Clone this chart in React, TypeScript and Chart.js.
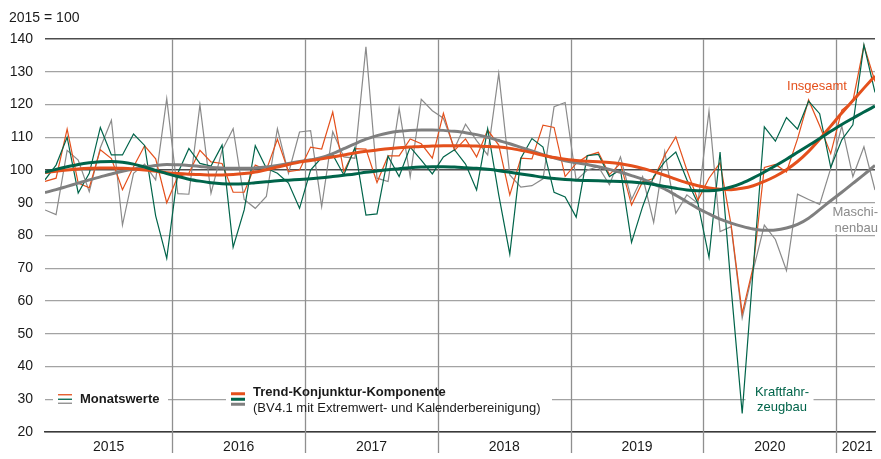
import React, { useEffect, useRef } from "react";
import { Chart, registerables } from "chart.js";

Chart.register(...registerables);

// ---- categories / ticks ----
const YEARS = ["2015", "2016", "2017", "2018", "2019", "2020", "2021"];
const YEAR_LABEL_POS = [5.75, 17.5, 29.5, 41.5, 53.5, 65.5, 73.4];
const YEAR_BOUNDARIES = [11.5, 23.5, 35.5, 47.5, 59.5, 71.5];
const Y_MIN = 20;
const Y_MAX = 140;

// ---- monthly values Jan 2015 .. Apr 2021 (76 months) ----
const INSGESAMT = [
  96.5, 97.5, 112.5, 96.0, 94.6, 106.2, 103.5, 94.0, 101.0, 107.4, 103.4, 90.0,
  98.0, 99.0, 106.0, 102.5, 102.0, 93.2, 93.2, 101.5, 100.0, 109.4, 99.5, 100.0,
  107.0, 106.4, 117.7, 99.5, 106.5, 106.4, 96.2, 104.3, 104.3, 109.5, 108.0, 103.6,
  117.3, 106.0, 109.5, 104.0, 112.2, 107.6, 92.4, 103.6, 103.4, 113.7, 113.0, 98.0,
  102.0, 104.3, 105.4, 98.6, 102.0, 89.3, 96.4, 97.4, 104.5, 110.1, 100.0, 90.8,
  97.5, 102.2, 83.2, 56.2, 70.5, 100.8, 101.7, 99.4, 109.5, 121.4, 113.5, 105.0,
  118.3, 121.0, 138.0, 127.0,
];
const KRAFTFAHRZEUGBAU = [
  97.0, 101.5, 110.0, 93.0, 99.0, 113.0, 104.6, 104.6, 111.0, 107.5, 86.0, 73.0,
  99.0, 106.6, 102.0, 101.2, 107.6, 76.4, 87.8, 107.4, 100.5, 99.0, 96.0, 88.3,
  100.0, 103.8, 104.7, 98.5, 106.8, 86.2, 86.6, 104.2, 98.0, 107.0, 103.0, 98.8,
  104.0, 106.2, 101.8, 93.9, 112.6, 92.4, 74.3, 103.6, 109.6, 107.0, 93.2, 91.8,
  85.6, 104.4, 104.8, 98.0, 100.1, 77.9, 88.8, 98.0, 102.5, 105.5, 97.0, 89.8,
  73.3, 105.5, 64.0, 25.7, 70.0, 113.2, 108.8, 116.0, 112.5, 121.0, 117.2, 100.8,
  109.2, 113.8, 138.2, 123.7,
];
const MASCHINENBAU = [
  87.8, 86.4, 106.0, 103.0, 93.4, 106.8, 115.2, 83.2, 99.0, 101.8, 97.0, 121.8,
  92.8, 92.6, 119.9, 92.9, 106.0, 112.6, 91.0, 88.3, 91.9, 112.6, 99.0, 111.6,
  112.0, 88.8, 111.7, 104.0, 103.6, 137.6, 97.5, 96.5, 118.8, 97.9, 121.6, 118.1,
  115.8, 106.6, 114.0, 109.0, 104.6, 129.5, 98.5, 94.8, 95.2, 97.3, 119.3, 120.6,
  96.8, 100.0, 101.0, 95.5, 104.0, 91.0, 98.0, 84.0, 105.6, 86.8, 92.4, 89.8,
  118.0, 81.2, 82.7, 54.8, 69.5, 83.2, 78.8, 69.3, 92.6, 91.0, 89.5, 100.5,
  113.4, 98.0, 107.1, 93.9,
];

// ---- trend-cycle components ----
const TREND_INSGESAMT = [
  99.2, 99.6, 100.0, 100.3, 100.5, 100.6, 100.6, 100.5, 100.3, 100.0, 99.6, 99.2,
  98.9, 98.7, 98.6, 98.5, 98.5, 98.6, 98.9, 99.4, 100.1, 100.9, 101.7, 102.4,
  102.9, 103.4, 104.0, 104.6, 105.2, 105.7, 106.1, 106.5, 106.8, 107.0, 107.2, 107.3,
  107.4, 107.4, 107.4, 107.3, 107.2, 107.0, 106.6, 106.0, 105.3, 104.5, 103.8, 103.3,
  102.9, 102.7, 102.5, 102.3, 101.9, 101.3, 100.5, 99.5, 98.4, 97.2, 96.1, 95.2,
  94.5, 94.1, 94.0, 94.4, 95.2, 96.5, 98.1, 100.1, 102.6, 105.7, 109.4, 113.4,
  117.4, 121.2, 125.0, 128.7,
];
const TREND_KRAFTFAHRZEUGBAU = [
  99.3, 100.2, 101.0, 101.7, 102.2, 102.5, 102.6, 102.4, 101.8, 100.9, 99.9, 98.9,
  98.0, 97.2, 96.6, 96.1, 95.8, 95.7, 95.8, 96.1, 96.4, 96.7, 96.9, 97.1,
  97.3, 97.6, 98.0, 98.4, 98.8, 99.3, 99.7, 100.1, 100.4, 100.7, 100.9, 101.0,
  101.0, 100.9, 100.7, 100.5, 100.2, 99.8, 99.3, 98.8, 98.3, 97.8, 97.4, 97.1,
  96.9, 96.8, 96.7, 96.6, 96.5, 96.3, 96.0, 95.6, 95.0, 94.4, 93.9, 93.7,
  93.7, 94.0, 94.8, 96.0, 97.6, 99.4, 101.3, 103.3, 105.4, 107.5, 109.6, 111.8,
  113.9, 115.8, 117.7, 119.5,
];
const TREND_MASCHINENBAU = [
  93.1, 94.0, 95.0, 96.0, 97.0, 97.9, 98.8, 99.6, 100.3, 100.9, 101.4, 101.7,
  101.6, 101.4, 101.1, 100.8, 100.6, 100.5, 100.5, 100.6, 100.9, 101.4, 102.0, 102.6,
  103.1, 103.8, 105.0, 106.5, 108.0, 109.4, 110.5, 111.3, 111.8, 112.1, 112.2, 112.2,
  112.1, 111.8, 111.4, 110.8, 110.0, 109.0, 108.0, 106.9, 105.8, 104.7, 103.7, 102.8,
  102.2, 101.7, 101.0, 100.2, 99.3, 98.3, 97.2, 95.8, 94.2, 92.3, 90.3, 88.3,
  86.6, 85.0, 83.8, 82.8, 82.0, 81.6, 81.7, 82.3, 83.4, 85.3, 87.9, 90.6,
  93.2, 95.9, 98.6, 101.4,
];

const ORANGE = "#e4501c";
const GREEN = "#00644a";
const GRAY = "#8a8a8a";
const GRAY_TREND = "#7f7f7f";
const FONT = "'Liberation Sans', Arial, Helvetica, sans-serif";

const pts = (arr: number[]) => arr.map((y, i) => ({ x: i, y }));

const overlayPlugin = {
  id: "overlay",
  beforeDatasetsDraw(chart: any) {
    const { ctx, chartArea } = chart;
    const xs = chart.scales.x;
    const ys = chart.scales.y;
    ctx.save();
    // white backgrounds behind the in-plot legend/labels (cut the 30 gridline)
    const y30 = ys.getPixelForValue(30);
    ctx.fillStyle = "#ffffff";
    ctx.fillRect(53, y30 - 9, 115, 18);
    ctx.fillRect(226, y30 - 15, 326, 30);
    ctx.fillRect(xs.getPixelForValue(63.3), y30 - 15, 68, 30);
    // year separators
    ctx.strokeStyle = "#8f8f8f";
    ctx.lineWidth = 1.3;
    YEAR_BOUNDARIES.forEach((v) => {
      const px = Math.round(xs.getPixelForValue(v)) + 0.5;
      ctx.beginPath();
      ctx.moveTo(px, chartArea.top);
      ctx.lineTo(px, chartArea.bottom + 21);
      ctx.stroke();
    });
    // box behind Maschinenbau label
    ctx.fillStyle = "#ffffff";
    ctx.fillRect(829, ys.getPixelForValue(89.6), 52, 30);
    ctx.restore();
  },
  afterDatasetsDraw(chart: any) {
    const { ctx } = chart;
    const ys = chart.scales.y;
    const y30 = ys.getPixelForValue(30);
    ctx.save();
    ctx.textBaseline = "middle";
    // unit
    ctx.fillStyle = "#1a1a1a";
    ctx.font = `14px ${FONT}`;
    ctx.textAlign = "left";
    ctx.fillText("2015 = 100", 9, 18);
    // legend: Monatswerte
    const thin = [
      [ORANGE, -4.5],
      [GREEN, 0],
      [GRAY, 4],
    ];
    thin.forEach(([c, dy]) => {
      ctx.strokeStyle = c as string;
      ctx.lineWidth = 1.3;
      ctx.beginPath();
      ctx.moveTo(58, y30 + (dy as number));
      ctx.lineTo(72, y30 + (dy as number));
      ctx.stroke();
    });
    ctx.fillStyle = "#1a1a1a";
    ctx.font = `bold 13px ${FONT}`;
    ctx.fillText("Monatswerte", 80, y30);
    // legend: Trend
    const thick = [
      [ORANGE, -5.5],
      [GREEN, 0],
      [GRAY_TREND, 5],
    ];
    thick.forEach(([c, dy]) => {
      ctx.strokeStyle = c as string;
      ctx.lineWidth = 3;
      ctx.beginPath();
      ctx.moveTo(231, y30 + (dy as number));
      ctx.lineTo(245, y30 + (dy as number));
      ctx.stroke();
    });
    ctx.fillStyle = "#1a1a1a";
    ctx.font = `bold 13px ${FONT}`;
    ctx.fillText("Trend-Konjunktur-Komponente", 253, y30 - 6.5);
    ctx.font = `13px ${FONT}`;
    ctx.fillText("(BV4.1 mit Extremwert- und Kalenderbereinigung)", 253, y30 + 9);
    // series labels
    ctx.textAlign = "center";
    ctx.fillStyle = ORANGE;
    ctx.fillText("Insgesamt", 817, 86);
    ctx.fillStyle = GREEN;
    ctx.fillText("Kraftfahr-", 782, y30 - 6.5);
    ctx.fillText("zeugbau", 782, y30 + 8.5);
    ctx.textAlign = "right";
    ctx.fillStyle = GRAY;
    ctx.fillText("Maschi-", 878, 212);
    ctx.fillText("nenbau", 878, 228);
    ctx.restore();
  },
};

export default function App() {
  const ref = useRef<HTMLCanvasElement | null>(null);

  useEffect(() => {
    if (!ref.current) return;
    const chart = new Chart(ref.current, {
      type: "line",
      data: {
        datasets: [
          {
            label: "Trend Kraftfahrzeugbau",
            data: pts(TREND_KRAFTFAHRZEUGBAU),
            borderColor: GREEN,
            borderWidth: 3,
            cubicInterpolationMode: "monotone",
          },
          {
            label: "Trend Insgesamt",
            data: pts(TREND_INSGESAMT),
            borderColor: ORANGE,
            borderWidth: 3,
            cubicInterpolationMode: "monotone",
          },
          {
            label: "Trend Maschinenbau",
            data: pts(TREND_MASCHINENBAU),
            borderColor: GRAY_TREND,
            borderWidth: 3,
            cubicInterpolationMode: "monotone",
          },
          {
            label: "Kraftfahrzeugbau",
            data: pts(KRAFTFAHRZEUGBAU),
            borderColor: GREEN,
            borderWidth: 1.2,
            tension: 0,
          },
          {
            label: "Insgesamt",
            data: pts(INSGESAMT),
            borderColor: ORANGE,
            borderWidth: 1.2,
            tension: 0,
          },
          {
            label: "Maschinenbau",
            data: pts(MASCHINENBAU),
            borderColor: GRAY,
            borderWidth: 1.2,
            tension: 0,
          },
        ] as any,
      },
      options: {
        animation: false,
        responsive: false,
        devicePixelRatio: 1,
        parsing: true,
        elements: { point: { radius: 0, hoverRadius: 0 }, line: { fill: false } },
        layout: { padding: { top: 39, right: 6, left: 0, bottom: 0 } },
        plugins: { legend: { display: false }, tooltip: { enabled: false } },
        scales: {
          x: {
            type: "linear",
            min: 0,
            max: INSGESAMT.length - 1,
            afterBuildTicks: (axis: any) => {
              axis.ticks = YEAR_LABEL_POS.map((v) => ({ value: v }));
            },
            afterFit: (axis: any) => {
              axis.height = 27;
            },
            ticks: {
              autoSkip: false,
              maxRotation: 0,
              padding: 7,
              color: "#1a1a1a",
              font: { family: FONT, size: 14 },
              callback: (_v: any, i: number) => YEARS[i],
            },
            grid: { display: false, drawTicks: false },
            border: { display: true, color: "#3a3a3a", width: 1.6 },
          },
          y: {
            min: Y_MIN,
            max: Y_MAX,
            afterFit: (axis: any) => {
              axis.width = 45;
            },
            ticks: {
              stepSize: 10,
              padding: 12,
              color: "#1a1a1a",
              font: { family: FONT, size: 14 },
            },
            grid: {
              drawTicks: false,
              color: (c: any) =>
                c.tick && (c.tick.value === 100 || c.tick.value === 140 || c.tick.value === 20)
                  ? "#4d4d4d"
                  : "#a3a3a3",
              lineWidth: (c: any) =>
                c.tick && (c.tick.value === 100 || c.tick.value === 140) ? 1.6 : 1.2,
            },
            border: { display: false },
          },
        },
      } as any,
      plugins: [overlayPlugin],
    });
    return () => chart.destroy();
  }, []);

  return (
    <div style={{ position: "absolute", left: 0, top: 0, width: 881, height: 459, background: "#fff" }}>
      <canvas ref={ref} width={881} height={459} style={{ display: "block" }} />
    </div>
  );
}
